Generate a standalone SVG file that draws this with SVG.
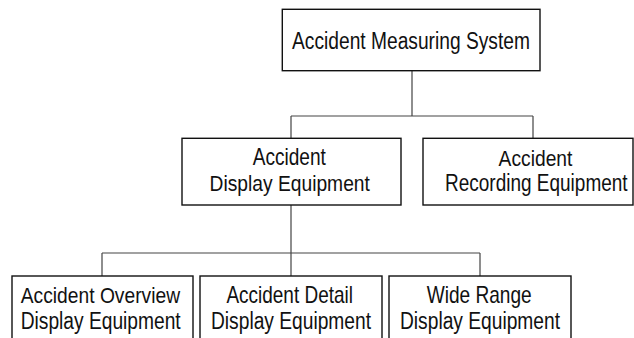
<svg xmlns="http://www.w3.org/2000/svg" width="634" height="338" viewBox="0 0 634 338">
<style>
.box{fill:#fff;stroke:#111;stroke-width:1.4}
.lbl{font-family:"Liberation Sans",Arial,Helvetica,sans-serif;font-size:23px;fill:#111;text-anchor:middle}
.conn{stroke:#444;stroke-width:1.2;fill:none}
</style>
<rect width="634" height="338" fill="#fff"/>
<g id="connectors">
<path class="conn" d="M412 71V116M291 116H533M291 116V138M533 116V138"/>
<path class="conn" d="M291 205V253M102 253H480M102 253V276M291 253V276M480 253V276"/>
</g>
<g id="ams">
<rect class="box" x="282.3" y="9.3" width="257.7" height="61.4"/>
<text class="lbl" transform="translate(411 49) scale(0.835 1)">Accident Measuring System</text>
</g>
<g id="ade">
<rect class="box" x="182" y="138.3" width="219" height="66.7"/>
<text class="lbl" transform="translate(289.3 165) scale(0.83 1)">Accident</text>
<text class="lbl" transform="translate(289.7 191) scale(0.837 1)">Display Equipment</text>
</g>
<g id="are">
<rect class="box" x="423" y="138.3" width="210" height="66.7"/>
<text class="lbl" transform="translate(535.5 165.5) scale(0.837 1)">Accident</text>
<text class="lbl" transform="translate(536.3 191) scale(0.826 1)">Recording Equipment</text>
</g>
<g id="aode">
<rect class="box" x="12" y="276" width="181" height="70"/>
<text class="lbl" transform="translate(100.4 302.7) scale(0.837 1)">Accident Overview</text>
<text class="lbl" transform="translate(100.7 329.3) scale(0.835 1)">Display Equipment</text>
</g>
<g id="adde">
<rect class="box" x="200" y="276" width="182" height="70"/>
<text class="lbl" transform="translate(289.7 302.7) scale(0.825 1)">Accident Detail</text>
<text class="lbl" transform="translate(291 329.3) scale(0.835 1)">Display Equipment</text>
</g>
<g id="wrde">
<rect class="box" x="389" y="276" width="182" height="70"/>
<text class="lbl" transform="translate(479.2 302.7) scale(0.83 1)">Wide Range</text>
<text class="lbl" transform="translate(480 329.3) scale(0.835 1)">Display Equipment</text>
</g>
</svg>
